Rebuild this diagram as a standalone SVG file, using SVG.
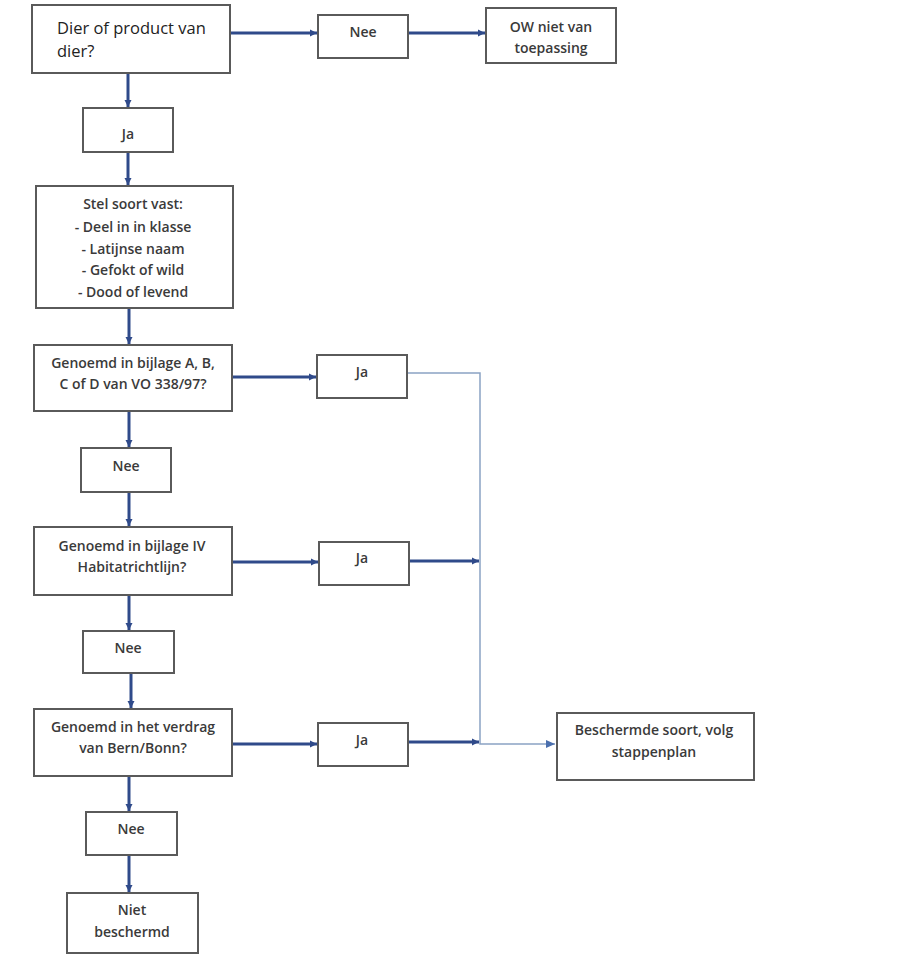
<svg xmlns="http://www.w3.org/2000/svg" width="902" height="961" viewBox="0 0 902 961">
<style>
.box{fill:#fff;stroke:#5a5a5a;stroke-width:2}
.t{font-family:"Open Sans","Liberation Sans",sans-serif;font-size:14px;font-weight:600;fill:#3a3a3a;text-anchor:middle}
.t1{font-family:"Open Sans","Liberation Sans",sans-serif;font-size:16.5px;fill:#222}
.thick{stroke:#2f4a8a;stroke-width:3;fill:none}
.thin{stroke:#8aa3c4;stroke-width:1.5;fill:none}
</style>
<defs>
<marker id="ah" markerUnits="userSpaceOnUse" markerWidth="8" markerHeight="8" refX="7" refY="4" orient="auto">
<path d="M0,0.5 L7,4 L0,7.5 Z" fill="#2f4a8a"/>
</marker>
<marker id="ah2" markerUnits="userSpaceOnUse" markerWidth="10" markerHeight="10" refX="9" refY="5" orient="auto">
<path d="M0,1 L9,5 L0,9 Z" fill="#4a6fae"/>
</marker>
</defs>
<g id="connectors">
<line class="thick" x1="230" y1="33" x2="317" y2="33" marker-end="url(#ah)"/>
<line class="thick" x1="408" y1="33" x2="485" y2="33" marker-end="url(#ah)"/>
<line class="thick" x1="128" y1="73" x2="128" y2="107" marker-end="url(#ah)"/>
<line class="thick" x1="128" y1="152" x2="128" y2="185" marker-end="url(#ah)"/>
<line class="thick" x1="129" y1="308" x2="129" y2="344" marker-end="url(#ah)"/>
<line class="thick" x1="232" y1="377" x2="316" y2="377" marker-end="url(#ah)"/>
<line class="thick" x1="129" y1="411" x2="129" y2="447" marker-end="url(#ah)"/>
<line class="thick" x1="129" y1="492" x2="129" y2="526" marker-end="url(#ah)"/>
<line class="thick" x1="232" y1="562" x2="318" y2="562" marker-end="url(#ah)"/>
<line class="thick" x1="409" y1="561" x2="479" y2="561" marker-end="url(#ah)"/>
<line class="thick" x1="129" y1="595" x2="129" y2="630" marker-end="url(#ah)"/>
<line class="thick" x1="131" y1="673" x2="131" y2="708" marker-end="url(#ah)"/>
<line class="thick" x1="232" y1="744" x2="317" y2="744" marker-end="url(#ah)"/>
<line class="thick" x1="408" y1="742" x2="479" y2="742" marker-end="url(#ah)"/>
<line class="thick" x1="129" y1="776" x2="129" y2="811" marker-end="url(#ah)"/>
<line class="thick" x1="129" y1="855" x2="129" y2="892" marker-end="url(#ah)"/>
<path class="thin" d="M407,373 H480 V744 H555" marker-end="url(#ah2)"/>
</g>
<g id="n1"><rect class="box" x="32" y="5" width="198" height="68"/>
<text class="t1" x="57" y="34">Dier of product van</text><text class="t1" x="57" y="57">dier?</text></g>
<g id="n2"><rect class="box" x="318" y="15" width="90" height="43"/><text class="t" x="363" y="37">Nee</text></g>
<g id="n3"><rect class="box" x="486" y="8" width="130" height="55"/>
<text class="t" x="551" y="32">OW niet van</text><text class="t" x="551" y="53">toepassing</text></g>
<g id="n4"><rect class="box" x="83" y="108" width="90" height="44"/><text class="t" x="128" y="139">Ja</text></g>
<g id="n5"><rect class="box" x="36" y="186" width="197" height="122"/>
<text class="t" x="133" y="209">Stel soort vast:</text>
<text class="t" x="133" y="232">- Deel in in klasse</text>
<text class="t" x="133" y="254">- Latijnse naam</text>
<text class="t" x="133" y="275">- Gefokt of wild</text>
<text class="t" x="133" y="297">- Dood of levend</text></g>
<g id="n6"><rect class="box" x="34" y="345" width="198" height="66"/>
<text class="t" x="133" y="368">Genoemd in bijlage A, B,</text><text class="t" x="133" y="389">C of D van VO 338/97?</text></g>
<g id="n7"><rect class="box" x="317" y="355" width="90" height="43"/><text class="t" x="362" y="377">Ja</text></g>
<g id="n8"><rect class="box" x="81" y="448" width="90" height="44"/><text class="t" x="126" y="471">Nee</text></g>
<g id="n9"><rect class="box" x="34" y="527" width="198" height="68"/>
<text class="t" x="132" y="551">Genoemd in bijlage IV</text><text class="t" x="132" y="572">Habitatrichtlijn?</text></g>
<g id="n10"><rect class="box" x="319" y="542" width="90" height="43"/><text class="t" x="362" y="563">Ja</text></g>
<g id="n11"><rect class="box" x="83" y="631" width="91" height="42"/><text class="t" x="128" y="653">Nee</text></g>
<g id="n12"><rect class="box" x="34" y="709" width="198" height="67"/>
<text class="t" x="133" y="732">Genoemd in het verdrag</text><text class="t" x="133" y="753">van Bern/Bonn?</text></g>
<g id="n13"><rect class="box" x="318" y="723" width="90" height="43"/><text class="t" x="362" y="745">Ja</text></g>
<g id="n14"><rect class="box" x="557" y="713" width="197" height="67"/>
<text class="t" x="654" y="735">Beschermde soort, volg</text><text class="t" x="654" y="757">stappenplan</text></g>
<g id="n15"><rect class="box" x="86" y="812" width="91" height="43"/><text class="t" x="131" y="834">Nee</text></g>
<g id="n16"><rect class="box" x="67" y="893" width="131" height="60"/>
<text class="t" x="132" y="915">Niet</text><text class="t" x="132" y="937">beschermd</text></g>
</svg>
